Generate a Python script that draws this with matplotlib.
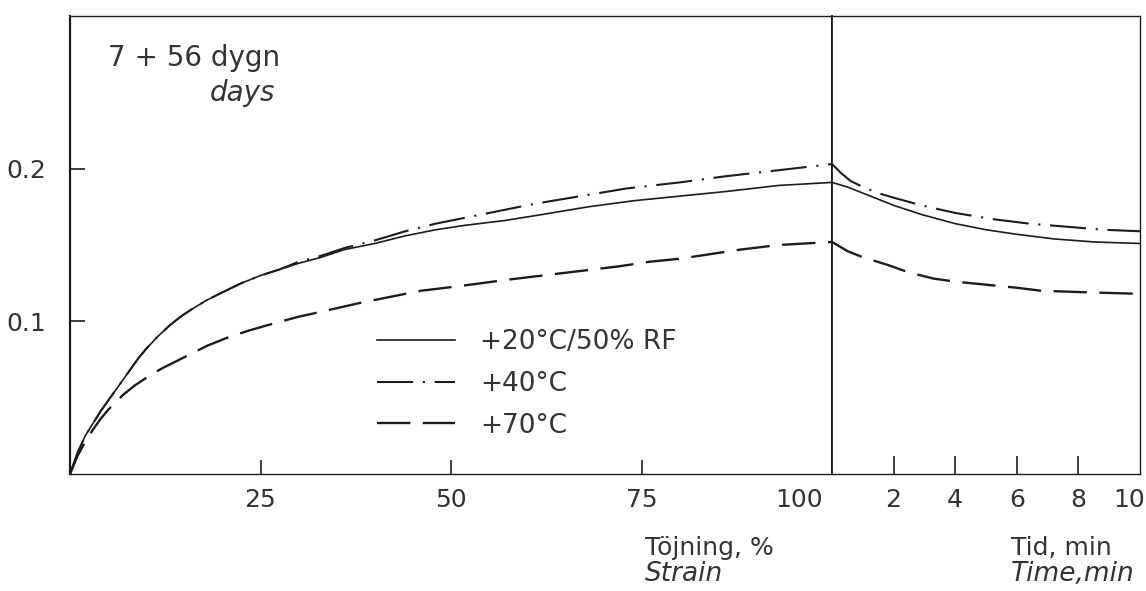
import matplotlib
matplotlib.use("Agg")
import matplotlib.pyplot as plt

# krypning / spänningsrelaxation, 7 + 56 dygn
strain_20 = [0, 1, 2, 3, 4, 5, 6, 7, 8, 9, 10, 11.5, 13, 14.5, 16, 18, 20, 22.5, 25, 27.5,
             30, 33, 36, 40, 44, 48, 52, 57, 62, 68, 74, 80, 86, 93, 100]
val_20 = [0, 0.014, 0.025, 0.033, 0.041, 0.048, 0.055, 0.062, 0.069, 0.076, 0.082, 0.090,
          0.097, 0.103, 0.108, 0.114, 0.119, 0.125, 0.130, 0.134, 0.138, 0.142, 0.147,
          0.151, 0.156, 0.160, 0.163, 0.166, 0.170, 0.175, 0.179, 0.182, 0.185, 0.189, 0.191]

strain_40 = [0, 1, 2, 3, 4, 5, 6, 7, 8, 9, 10, 11.5, 13, 14.5, 16, 18, 20, 22.5, 25, 27.5,
             30, 33, 36, 40, 44, 48, 52, 56, 61, 67, 73, 80, 86, 93, 100]
val_40 = [0, 0.014, 0.025, 0.033, 0.041, 0.048, 0.055, 0.062, 0.069, 0.076, 0.082, 0.090,
          0.097, 0.103, 0.108, 0.114, 0.119, 0.125, 0.130, 0.134, 0.139, 0.143, 0.148,
          0.153, 0.159, 0.164, 0.168, 0.172, 0.177, 0.182, 0.187, 0.191, 0.195, 0.199, 0.203]

strain_70 = [0, 1, 2, 3, 4, 5, 6, 7, 8.5, 10, 12, 14, 16, 18, 20.5, 23.5, 27, 30, 33.6, 38,
             42, 46, 51, 57, 62, 67, 72, 76, 80, 84, 88, 93, 100]
val_70 = [0, 0.012, 0.021, 0.029, 0.036, 0.042, 0.047, 0.052, 0.058, 0.063, 0.069, 0.074,
          0.079, 0.084, 0.089, 0.094, 0.099, 0.103, 0.107, 0.112, 0.116, 0.120, 0.123,
          0.127, 0.130, 0.133, 0.136, 0.139, 0.141, 0.144, 0.147, 0.150, 0.152]

time_20 = [0, 0.5, 1, 1.5, 2, 2.9, 4, 5, 6, 7.2, 8.5, 10]
rel_20 = [0.191, 0.188, 0.184, 0.180, 0.176, 0.170, 0.164, 0.160, 0.157, 0.154, 0.152, 0.151]

time_40 = [0, 0.3, 0.6, 1, 1.5, 2, 2.9, 4, 5.2, 6.4, 7.6, 8.8, 10]
rel_40 = [0.203, 0.197, 0.192, 0.188, 0.184, 0.181, 0.176, 0.171, 0.167, 0.164, 0.162,
          0.160, 0.159]

time_70 = [0, 0.5, 1, 1.8, 2.5, 3.3, 4, 5, 6, 6.8, 8.3, 10]
rel_70 = [0.152, 0.146, 0.142, 0.137, 0.132, 0.128, 0.126, 0.124, 0.122, 0.120, 0.119, 0.118]

labels = [u"+20°C/50% RF", u"+40°C", u"+70°C"]
strain_ticks = [25, 50, 75]
time_ticks = [2, 4, 6, 8]
y_ticks = [0.1, 0.2]

plt.rcParams['font.family'] = 'DejaVu Sans'
plt.rcParams['lines.scale_dashes'] = False

ink = '#1c1c1c'
txt = '#333333'
W, H = 1146, 591


def box(x0, y0, x1, y1):
    return [x0 / W, 1 - y1 / H, (x1 - x0) / W, (y1 - y0) / H]


fig = plt.figure(figsize=(W / 100, H / 100), dpi=100)
ax1 = fig.add_axes(box(70, 16, 832, 474))
ax2 = fig.add_axes(box(832, 16, 1140, 474))

styles = [dict(lw=1.2), dict(lw=1.5, dashes=(26, 7, 1.5, 7)), dict(lw=1.7, dashes=(24, 9))]

for x, y, st, lab in zip([strain_20, strain_40, strain_70], [val_20, val_40, val_70], styles, labels):
    ax1.plot(x, y, color=ink, label=lab, **st)
for x, y, st in zip([time_20, time_40, time_70], [rel_20, rel_40, rel_70], styles):
    ax2.plot(x, y, color=ink, **st)

ax1.set_xlim(0, 100)
ax1.set_ylim(0, 0.30)
ax2.set_xlim(0, 10)
ax2.set_ylim(0, 0.30)

ax1.set_xticks(strain_ticks)
ax1.set_xticklabels([str(t) for t in strain_ticks])
ax1.set_yticks(y_ticks)
ax1.set_yticklabels([str(t) for t in y_ticks])
ax1.tick_params(axis='x', direction='in', length=10, width=1.2, labelsize=18, pad=10,
                color=ink, labelcolor=txt)
ax1.tick_params(axis='y', direction='in', length=11, width=1.2, labelsize=18, pad=17,
                color=ink, labelcolor=txt)
# 100 sits left of the divider so it does not collide with the time axis
ax1.text(98.8, -14 / 458, '100', ha='right', va='top', fontsize=18, color=txt,
         transform=ax1.get_xaxis_transform())

ax2.set_xticks(time_ticks)
ax2.set_xticklabels([str(t) for t in time_ticks])
ax2.set_yticks([])
ax2.tick_params(axis='x', direction='in', length=13, width=1.2, labelsize=18, pad=10,
                color=ink, labelcolor=txt)
ax2.text(9.65, -14 / 458, '10', ha='center', va='top', fontsize=18, color=txt,
         transform=ax2.get_xaxis_transform())

for ax in (ax1, ax2):
    for s in ax.spines.values():
        s.set_color(ink)
        s.set_linewidth(1.0)
ax1.spines['left'].set_linewidth(1.6)
ax1.spines['right'].set_linewidth(1.3)
ax2.spines['left'].set_linewidth(1.3)

ax1.legend(loc='upper left', bbox_to_anchor=(377 / W, 1 - 329 / H),
           bbox_transform=fig.transFigure, frameon=False, fontsize=19,
           handlelength=2.95, handletextpad=0.95, labelspacing=0.6,
           borderpad=0, borderaxespad=0, labelcolor=txt)

fig.text(108 / W, 1 - 58 / H, '7 + 56 dygn', fontsize=20, va='center', color=txt)
fig.text(210 / W, 1 - 93 / H, 'days', fontsize=20, style='italic', va='center', color=txt)
fig.text(645 / W, 1 - 548 / H, u'Töjning, %', fontsize=18, va='center', color=txt)
fig.text(645 / W, 1 - 574 / H, 'Strain', fontsize=19, style='italic', va='center', color=txt)
fig.text(1011 / W, 1 - 548 / H, 'Tid, min', fontsize=18, va='center', color=txt)
fig.text(1011 / W, 1 - 574 / H, 'Time,min', fontsize=19, style='italic', va='center', color=txt)

fig.savefig('out.png', dpi=100)
